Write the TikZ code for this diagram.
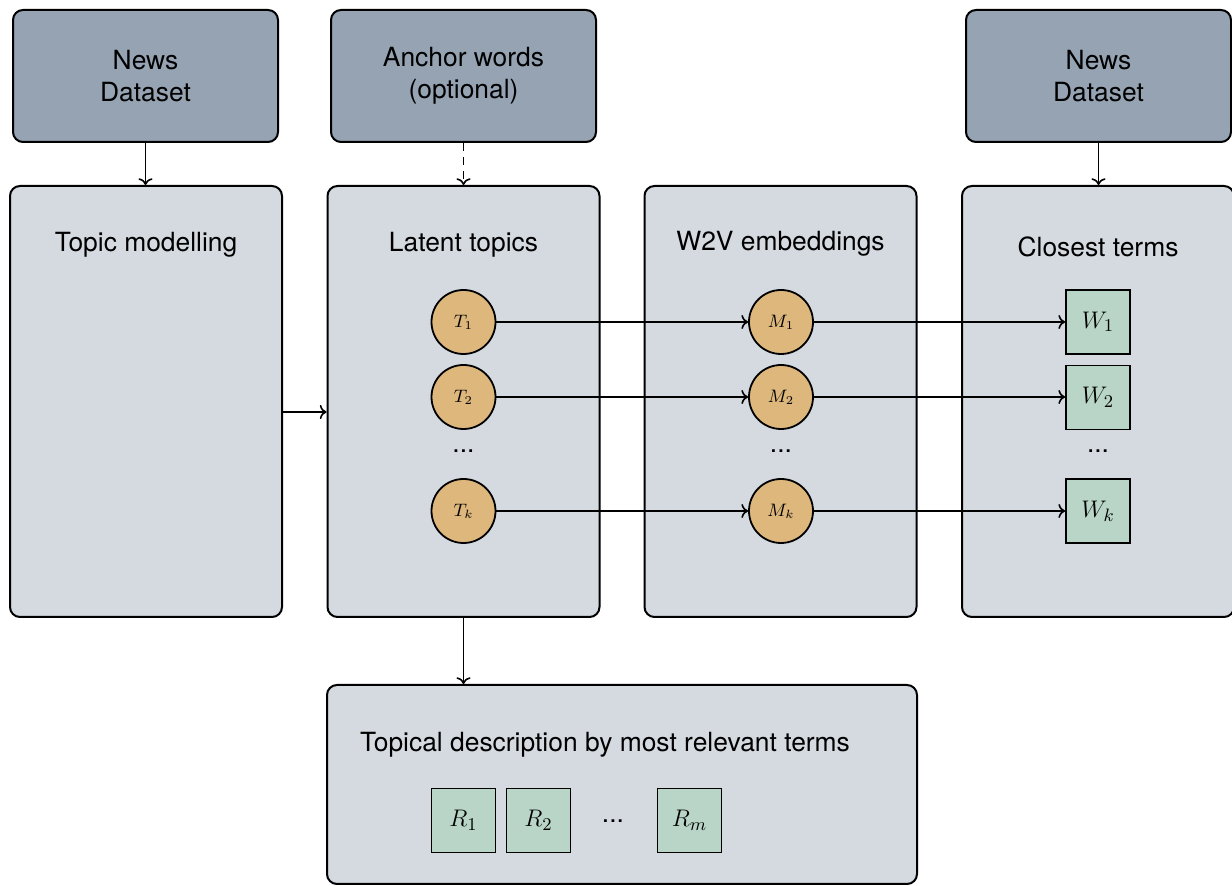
\documentclass[tikz,border=0pt]{standalone}
\usepackage{fontspec}
\setmainfont{TeX Gyre Heros}
\usetikzlibrary{arrows.meta}
\definecolor{darkbox}{HTML}{95A3B3}
\definecolor{lightbox}{HTML}{D5DAE1}
\definecolor{topicc}{HTML}{DDB77C}
\definecolor{termc}{HTML}{B9D5C8}
\tikzset{
  topbox/.style={draw=black, line width=1pt, fill=darkbox, rounded corners=5pt,
    minimum width=132.5pt, minimum height=66pt, align=center, inner sep=0pt,
    font=\fontsize{13.2}{16}\selectfont},
  bigbox/.style={draw=black, line width=1pt, fill=lightbox, rounded corners=5pt,
    minimum width=136pt, minimum height=215.5pt, inner sep=0pt},
  botbox/.style={draw=black, line width=1pt, fill=lightbox, rounded corners=5pt,
    minimum width=295pt, minimum height=99.5pt, inner sep=0pt},
  title/.style={font=\fontsize{13.2}{16}\selectfont, inner sep=0pt},
  topic/.style={circle, draw=black, line width=0.9pt, fill=topicc, minimum size=32pt,
    inner sep=0pt, font=\fontsize{9}{10}\selectfont},
  term/.style={rectangle, draw=black, line width=0.9pt, fill=termc, minimum size=32pt,
    inner sep=0pt, font=\fontsize{13.2}{16}\selectfont},
  dots/.style={font=\fontsize{13.2}{16}\selectfont, inner sep=0pt},
  arr/.style={->, line width=0.8pt},
}
\begin{document}
\begin{tikzpicture}[x=0.5pt,y=-0.5pt]
\useasboundingbox (0,0) rectangle (1232,886);
% top boxes
\node[topbox] (newsA) at (145.5,76) {News\\Dataset};
\node[topbox] (anchor) at (463.5,76) {Anchor words\\(optional)};
\node[topbox] (newsB) at (1098.5,76) {News\\Dataset};
% big boxes
\node[bigbox] (tm) at (146,401.5) {};
\node[bigbox] (lt) at (463.5,401.5) {};
\node[bigbox] (w2v) at (780.5,401.5) {};
\node[bigbox] (ct) at (1098,401.5) {};
\node[botbox] (td) at (622,784.5) {};
% titles
\node[title] (tmT) at (146,245) {Topic modelling};
\node[title] (ltT) at (463.5,245) {Latent topics};
\node[title] (w2vT) at (780.5,244) {W2V embeddings};
\node[title] (ctT) at (1098,247) {Closest terms};
\node[title] (tdT) at (605,745) {Topical description by most relevant terms};
% topics
\node[topic] (t1) at (463.5,322) {$T_1$};
\node[topic] (t2) at (463.5,397) {$T_2$};
\node[dots] (td1) at (463.5,451) {...};
\node[topic] (tk) at (463.5,511) {$T_k$};
\node[topic] (m1) at (781,322) {$M_1$};
\node[topic] (m2) at (781,397) {$M_2$};
\node[dots] (md1) at (781,451) {...};
\node[topic] (mk) at (781,511) {$M_k$};
\node[term] (w1) at (1098,322) {$W_1$};
\node[term] (w2) at (1098,397.5) {$W_2$};
\node[dots] (wd1) at (1098,451) {...};
\node[term] (wk) at (1098,511) {$W_k$};
% relevant terms
\node[term] (r1) at (463.5,820.5) {$R_1$};
\node[term] (r2) at (538.5,820.5) {$R_2$};
\node[dots] (rd) at (613,821) {...};
\node[term] (rm) at (689.5,820.5) {$R_m$};
% connectors
\draw[arr] (newsA.south) -- (newsA.south |- tm.north);
\draw[arr, dash pattern=on 4pt off 3pt] (anchor.south) -- (anchor.south |- lt.north);
\draw[arr] (newsB.south) -- (newsB.south |- ct.north);
\coordinate (midrow) at (0,412);
\draw[arr] (tm.east |- midrow) -- (lt.west |- midrow);
\draw[arr] (lt.south) -- (lt.south |- td.north);
\draw[arr] (t1) -- (m1);
\draw[arr] (t2) -- (m2);
\draw[arr] (tk) -- (mk);
\draw[arr] (m1) -- (w1);
\draw[arr] (m2) -- (m2 -| w2.west);
\draw[arr] (mk) -- (wk);
\end{tikzpicture}
\end{document}
